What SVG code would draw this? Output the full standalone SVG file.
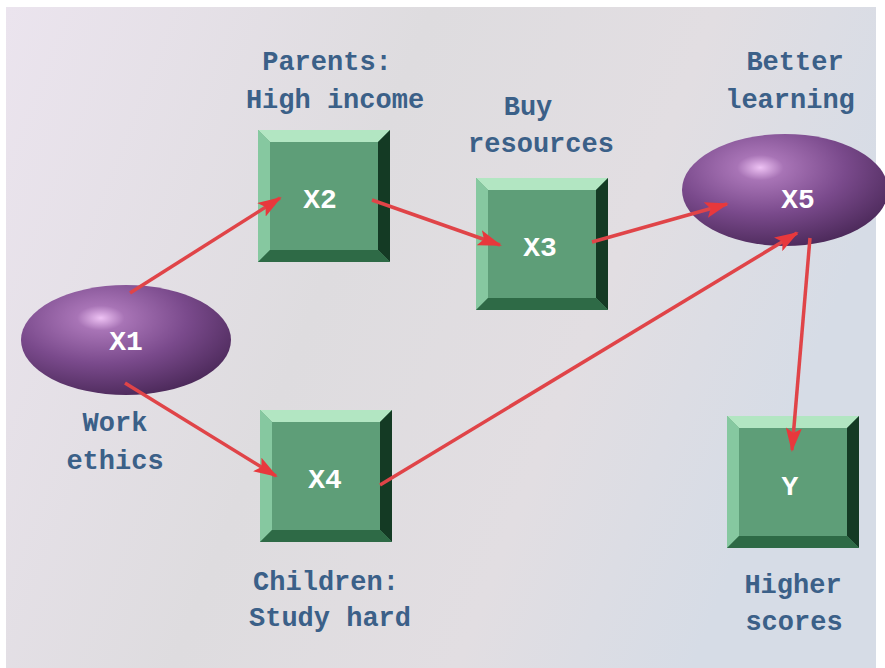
<svg xmlns="http://www.w3.org/2000/svg" width="885" height="668" viewBox="0 0 885 668">
<defs>
<linearGradient id="bg" x1="0" y1="0" x2="1" y2="0.3">
<stop offset="0" stop-color="#ebe4ee"/>
<stop offset="0.45" stop-color="#dedcdf"/>
<stop offset="0.75" stop-color="#e2dee2"/>
<stop offset="1" stop-color="#d6dce6"/>
</linearGradient>
<radialGradient id="purp" cx="0.38" cy="0.3" r="0.75">
<stop offset="0" stop-color="#eec2f4"/>
<stop offset="0.15" stop-color="#a874b6"/>
<stop offset="0.55" stop-color="#7a4a8c"/>
<stop offset="1" stop-color="#4a2858"/>
</radialGradient>
<marker id="ah" viewBox="0 0 24 16" refX="22" refY="8" markerWidth="24" markerHeight="16" markerUnits="userSpaceOnUse" orient="auto">
<path d="M0,0 L24,8 L0,16 L5,8 Z" fill="#e8383c"/>
</marker>
<g id="box">
<rect x="0" y="0" width="132" height="132" fill="#5e9e78"/>
<polygon points="0,0 132,0 120,12 12,12" fill="#b2e6c2"/>
<polygon points="0,0 12,12 12,120 0,132" fill="#86c8a0"/>
<polygon points="132,0 132,132 120,120 120,12" fill="#143a24"/>
<polygon points="0,132 132,132 120,120 12,120" fill="#2e6a46"/>
</g>
</defs>
<style>
.lbl{font-family:"Liberation Mono","DejaVu Sans Mono",monospace;font-weight:bold;font-size:27px;fill:#3b6088;text-anchor:middle}
.nt{font-family:"Liberation Mono","DejaVu Sans Mono",monospace;font-weight:bold;font-size:28px;fill:#ffffff;text-anchor:middle}
.con{stroke:#e04448;stroke-width:3.5;fill:none;marker-end:url(#ah)}
</style>
<rect width="885" height="668" fill="#ffffff"/>
<rect x="6" y="7" width="870" height="661" fill="url(#bg)"/>

<g id="X1">
<ellipse cx="126" cy="340" rx="105" ry="55" fill="url(#purp)"/>
<text class="nt" x="126" y="350">X1</text>
<text class="lbl" x="115" y="431">Work</text>
<text class="lbl" x="115" y="469">ethics</text>
</g>
<g id="X2">
<use href="#box" x="258" y="130"/>
<text class="nt" x="320" y="208">X2</text>
<text class="lbl" x="327" y="70">Parents:</text>
<text class="lbl" x="335" y="108">High income</text>
</g>
<g id="X3">
<use href="#box" x="476" y="178"/>
<text class="nt" x="540" y="256">X3</text>
<text class="lbl" x="528" y="115">Buy</text>
<text class="lbl" x="541" y="152">resources</text>
</g>
<g id="X4">
<use href="#box" x="260" y="410"/>
<text class="nt" x="325" y="488">X4</text>
<text class="lbl" x="326" y="590">Children:</text>
<text class="lbl" x="330" y="626">Study hard</text>
</g>
<g id="X5">
<ellipse cx="785" cy="190" rx="103" ry="56" fill="url(#purp)"/>
<text class="nt" x="798" y="208">X5</text>
<text class="lbl" x="795" y="70">Better</text>
<text class="lbl" x="790" y="108">learning</text>
</g>
<g id="Y">
<use href="#box" x="727" y="416"/>
<text class="nt" x="790" y="495">Y</text>
<text class="lbl" x="793" y="593">Higher</text>
<text class="lbl" x="794" y="630">scores</text>
</g>

<g id="connectors">
<line class="con" x1="130" y1="293" x2="280" y2="198"/>
<line class="con" x1="372" y1="200" x2="500" y2="245"/>
<line class="con" x1="592" y1="242" x2="727" y2="204"/>
<line class="con" x1="125" y1="383" x2="276" y2="476"/>
<line class="con" x1="380" y1="485" x2="797" y2="233"/>
<line class="con" x1="810" y1="238" x2="792" y2="450"/>
</g>
</svg>
